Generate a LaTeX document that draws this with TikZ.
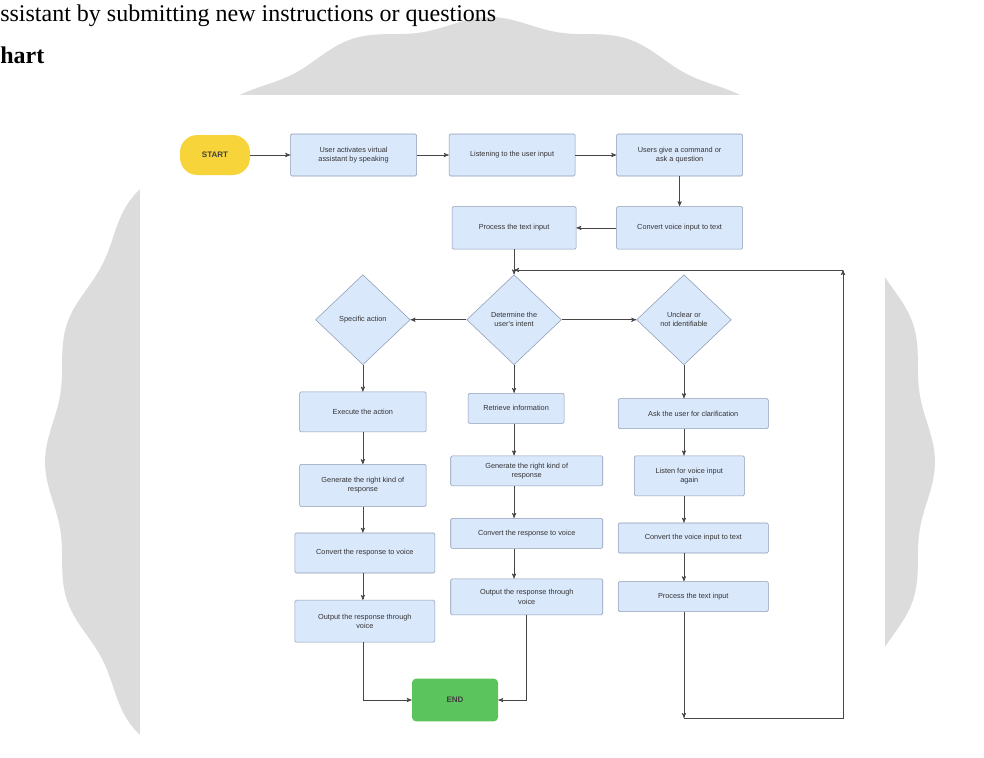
\documentclass[tikz,border=0pt]{standalone}
\usepackage{fontspec}
\setmainfont{Liberation Serif}
\newfontfamily\boxfont{Liberation Sans}
\usetikzlibrary{arrows,positioning,shapes.geometric}
\definecolor{boxfill}{RGB}{218,232,252}
\definecolor{boxline}{RGB}{140,155,180}
\definecolor{startfill}{RGB}{247,212,58}
\definecolor{endfill}{RGB}{92,196,92}
\definecolor{wmgray}{RGB}{220,220,220}
\definecolor{linegray}{RGB}{70,70,70}
\tikzset{
    %Define standard arrow tip
    >=stealth',
    %Define style for boxes
    kasten/.style={
           rectangle, rounded corners=1pt,
           draw=boxline, fill=boxfill,
           text=black!80,
           font=\boxfont\fontsize{5.5}{6.8}\selectfont,
           align=center,
           inner sep=2pt},
    % Define style for decisions
    raute/.style={
           diamond,
           draw=boxline, fill=boxfill,
           text=black!80,
           font=\boxfont\fontsize{5.5}{6.8}\selectfont,
           align=center,
           inner sep=0pt,
           minimum width=71pt,
           minimum height=67.5pt},
    % Define style for start and end
    ende/.style={
           rectangle, rounded corners=#1,
           font=\boxfont\bfseries\fontsize{6}{7}\selectfont,
           text=black!75,
           inner sep=2pt},
    % Define arrow style
    pil/.style={
           ->,
           draw=linegray,
           line width=0.45pt},
    % Define style for page text
    seite/.style={
           font=\fontsize{18}{20}\selectfont,
           inner sep=0pt}
}
\begin{document}
\begin{tikzpicture}[x=0.75pt, y=-0.75pt, node distance=24pt, auto,]
\useasboundingbox (0,0) rectangle (984,757);

%background
\fill[white] (0,0) rectangle (984,757);
\fill[wmgray, shift={(490,462)}]
    plot[domain=0:359, samples=360] (\x:{440+5*cos(20*\x)}) -- cycle;
\fill[white] (140,95) rectangle (885,760);
\node[seite, anchor=base west] (zeile) at (0,21) {ssistant by submitting new instructions or questions};
\node[seite, anchor=base west, font=\bfseries\fontsize{18}{20}\selectfont] (titel) at (0,63) {hart};

%nodes
\node[ende=13pt, fill=startfill, minimum width=52.5pt, minimum height=30pt] (start) at (215,155) {START};
\node[kasten, right=30pt of start, minimum width=94.5pt, minimum height=31.5pt] (aktiv) {User activates virtual\\assistant by speaking};
\node[kasten, right=24pt of aktiv, minimum width=94.5pt, minimum height=31.5pt] (hoeren) {Listening to the user input};
\node[kasten, right=30.75pt of hoeren, minimum width=94.5pt, minimum height=31.5pt] (befehl) {Users give a command or\\ask a question};
\node[kasten, below=22.5pt of befehl, minimum width=94.5pt, minimum height=32pt] (umwandeln) {Convert voice input to text};
\node[kasten, left=30pt of umwandeln, minimum width=93pt, minimum height=32pt] (verarbeiten) {Process the text input};

\node[raute, below=18.75pt of verarbeiten] (absicht) {Determine the\\user's intent};
\node[raute, left=42pt of absicht] (aktion) {Specific action};
\node[raute, right=56pt of absicht] (unklar) {Unclear or\\not identifiable};

% left column
\node[kasten, below=20pt of aktion, minimum width=95pt, minimum height=30pt] (ausfuehren) {Execute the action};
\node[kasten, below=24pt of ausfuehren, minimum width=95pt, minimum height=31.5pt] (antwortA) {Generate the right kind of\\response};
\node[kasten, below=19.5pt of antwortA, xshift=1.5pt, minimum width=105pt, minimum height=30pt] (stimmeA) {Convert the response to voice};
\node[kasten, below=20pt of stimmeA, minimum width=105pt, minimum height=31.5pt] (ausgabeA) {Output the response through\\voice};

% middle column
\node[kasten, below=21pt of absicht, xshift=1.5pt, minimum width=72pt, minimum height=22.5pt] (abrufen) {Retrieve information};
\node[kasten, below=24pt of abrufen, xshift=8pt, minimum width=114pt, minimum height=22.5pt] (antwortB) {Generate the right kind of\\response};
\node[kasten, below=24pt of antwortB, minimum width=114pt, minimum height=22.5pt] (stimmeB) {Convert the response to voice};
\node[kasten, below=22.5pt of stimmeB, minimum width=114pt, minimum height=27pt] (ausgabeB) {Output the response through\\voice};

% right column
\node[kasten, below=25pt of unklar, xshift=7pt, minimum width=112.5pt, minimum height=22.5pt] (fragen) {Ask the user for clarification};
\node[kasten, below=20pt of fragen, xshift=-3pt, minimum width=82.5pt, minimum height=30pt] (lauschen) {Listen for voice input\\again};
\node[kasten, below=20pt of lauschen, xshift=3pt, minimum width=112.5pt, minimum height=22.5pt] (textC) {Convert the voice input to text};
\node[kasten, below=21pt of textC, minimum width=112.5pt, minimum height=22.5pt] (verarbeitenC) {Process the text input};

\node[ende=3pt, fill=endfill, minimum width=64.5pt, minimum height=32pt] (ende) at (455,700) {END};

% loop points
\coordinate (schleifeB) at (843,718);
\coordinate (schleifeA) at (unklar |- schleifeB);
\coordinate (schleifeC) at (843,270);
\coordinate (schleifeD) at (absicht |- schleifeC);

\draw [pil] (start) -- (aktiv);
\draw [pil] (aktiv) -- (hoeren);
\draw [pil] (hoeren) -- (befehl);
\draw [pil] (befehl) -- (umwandeln);
\draw [pil] (umwandeln) -- (verarbeiten);
\draw [pil] (verarbeiten) -- (absicht);
\draw [pil] (absicht) -- (aktion);
\draw [pil] (absicht) -- (unklar);

\draw [pil] (aktion) -- (aktion |- ausfuehren.north);
\draw [pil] (ausfuehren.south -| aktion) -- (aktion |- antwortA.north);
\draw [pil] (antwortA.south -| aktion) -- (aktion |- stimmeA.north);
\draw [pil] (stimmeA.south -| aktion) -- (aktion |- ausgabeA.north);
\draw [pil] (ausgabeA.south -| aktion) |- (ende);

\draw [pil] (absicht) -- (absicht |- abrufen.north);
\draw [pil] (abrufen.south -| absicht) -- (absicht |- antwortB.north);
\draw [pil] (antwortB.south -| absicht) -- (absicht |- stimmeB.north);
\draw [pil] (stimmeB.south -| absicht) -- (absicht |- ausgabeB.north);
\draw [pil] (ausgabeB.south) |- (ende);

\draw [pil] (unklar) -- (unklar |- fragen.north);
\draw [pil] (fragen.south -| unklar) -- (unklar |- lauschen.north);
\draw [pil] (lauschen.south -| unklar) -- (unklar |- textC.north);
\draw [pil] (textC.south -| unklar) -- (unklar |- verarbeitenC.north);
\draw [pil] (verarbeitenC.south -| unklar) -- (schleifeA);
\draw [pil] (schleifeA) -- (schleifeB) -- (schleifeC);
\draw [pil] (schleifeC) -- (schleifeD);

\end{tikzpicture}
\end{document}
